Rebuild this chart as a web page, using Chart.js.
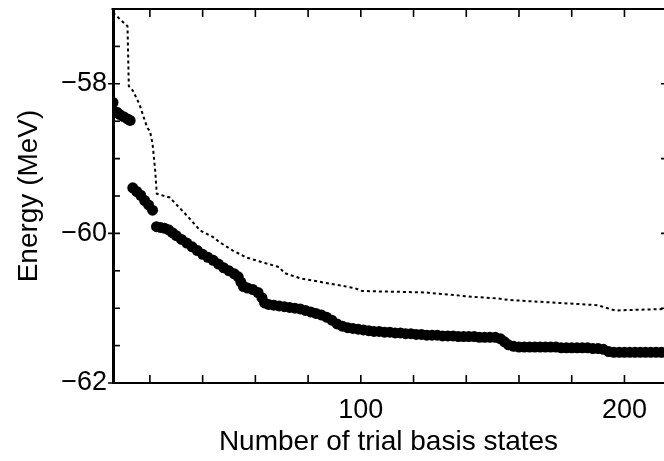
<!DOCTYPE html>
<html>
<head>
<meta charset="utf-8">
<script src="https://cdn.jsdelivr.net/npm/chart.js@4"></script>
<style>
html, body { margin: 0; padding: 0; background: #fff; overflow: hidden; }
</style>
</head>
<body>
<canvas id="myChart" width="664" height="461"></canvas>
<script>
// data block
const dotStates = [6, 7.5, 8.5, 10, 11.5, 12.5,
    13.5, 15, 16.5, 18, 19.5, 21,
    22.5, 24, 25.5, 27, 28.5, 30, 32, 34, 36, 38, 40, 42, 44, 46, 48, 50, 52, 53.5, 54.5, 55.5,
    57, 59, 61, 62.5, 63.5, 65, 67, 69, 71, 73, 75, 77, 79, 81, 83, 85, 87, 89, 91, 93, 95, 97, 99,
    101, 103, 105, 107, 109, 111, 113, 115, 117, 119, 121, 123, 125, 127, 129, 131, 133, 135, 137, 139,
    141, 143, 145, 147, 149, 151, 153, 154.5, 156, 158, 160, 162, 164, 166, 168, 170, 172, 174, 176, 178,
    180, 182, 184, 186, 188, 190, 192, 194, 196, 198, 200, 202, 204, 206, 208, 210, 212, 214, 216];
const dotEnergy = [-58.25, -58.38, -58.41, -58.44, -58.47, -58.49,
    -59.39, -59.44, -59.49, -59.56, -59.62, -59.69,
    -59.91, -59.92, -59.93, -59.95, -59.99, -60.03, -60.08, -60.13, -60.18, -60.23, -60.28, -60.32, -60.36, -60.41, -60.46, -60.50, -60.54, -60.58, -60.65, -60.71,
    -60.73, -60.75, -60.79, -60.86, -60.93, -60.95, -60.96, -60.97, -60.98, -60.99, -61.00, -61.01, -61.03, -61.05, -61.07, -61.09, -61.12, -61.16, -61.21, -61.24, -61.26, -61.27, -61.28,
    -61.29, -61.30, -61.31, -61.31, -61.32, -61.32, -61.33, -61.33, -61.34, -61.34, -61.35, -61.35, -61.36, -61.36, -61.36, -61.37, -61.37, -61.37, -61.38, -61.38,
    -61.38, -61.38, -61.39, -61.39, -61.39, -61.39, -61.41, -61.45, -61.49, -61.51, -61.52, -61.52, -61.52, -61.52, -61.52, -61.52, -61.52, -61.52, -61.53, -61.53,
    -61.53, -61.53, -61.53, -61.53, -61.54, -61.54, -61.55, -61.58, -61.59, -61.59, -61.59, -61.59, -61.59, -61.59, -61.59, -61.59, -61.59, -61.59, -61.59];

const lineStates = [6, 11.5, 12, 13.5, 16, 19, 20, 21, 22, 22.6, 27.5, 34, 39, 44, 46.5, 51.5, 56.5, 63, 69, 71, 77, 88, 97.5, 100.5,
    125, 127, 143.5, 152, 156, 190, 192.5, 196.5, 216];
const lineEnergy = [-57.05, -57.23, -58.03, -58.09, -58.27, -58.59, -58.63, -58.8, -59.16, -59.47, -59.52, -59.76, -59.96, -60.05, -60.12, -60.23, -60.32, -60.39, -60.45, -60.53, -60.6, -60.67, -60.73, -60.77,
    -60.79, -60.8, -60.85, -60.87, -60.89, -60.96, -60.99, -61.03, -61.01];

const xTicks = [20, 40, 60, 80, 100, 120, 140, 160, 180, 200];
const xLabels = [100, 200];
const yTicks = [-62, -61.5, -61, -60.5, -60, -59.5, -59, -58.5, -58, -57.5];
const yLabels = [-62, -60, -58];

const font = 'Liberation Sans, Arial, Helvetica, sans-serif';

// inward tick marks and the top frame line
const frameTicks = {
    id: 'frameTicks',
    afterDraw(chart) {
        const {ctx, chartArea: a, scales: {x, y}} = chart;
        ctx.save();
        ctx.strokeStyle = '#000';
        ctx.lineWidth = 2;
        ctx.beginPath();
        ctx.moveTo(a.left - 1.5, a.top);
        ctx.lineTo(a.right, a.top);
        ctx.stroke();
        ctx.lineWidth = 1.6;
        xTicks.forEach(v => {
            const px = x.getPixelForValue(v);
            ctx.beginPath();
            ctx.moveTo(px, a.bottom);
            ctx.lineTo(px, a.bottom - 8);
            ctx.moveTo(px, a.top);
            ctx.lineTo(px, a.top + 8);
            ctx.stroke();
        });
        yTicks.forEach(v => {
            const py = y.getPixelForValue(v);
            ctx.beginPath();
            ctx.moveTo(a.left - (yLabels.includes(v) ? 5 : 0), py);
            ctx.lineTo(a.left + 7, py);
            if (Number.isInteger(v)) {
                ctx.moveTo(a.right, py);
                ctx.lineTo(a.right - 3, py);
            }
            ctx.stroke();
        });
        ctx.restore();
    }
};

// config block
const config = {
    type: 'scatter',
    data: {
        datasets: [{
            data: dotStates.map((s, i) => ({x: s, y: dotEnergy[i]})),
            backgroundColor: '#000',
            borderWidth: 0,
            pointRadius: 5.5
        }, {
            data: lineStates.map((s, i) => ({x: s, y: lineEnergy[i]})),
            showLine: true,
            borderColor: '#000',
            borderWidth: 2,
            borderDash: [3, 3],
            pointRadius: 0,
            tension: 0
        }]
    },
    options: {
        responsive: false,
        animation: false,
        devicePixelRatio: 1,
        layout: { autoPadding: false, padding: { top: 9, right: 0, bottom: 0, left: 0 } },
        plugins: { legend: { display: false }, tooltip: { enabled: false } },
        scales: {
            x: {
                type: 'linear',
                min: 6,
                max: 215,
                afterBuildTicks: s => { s.ticks = xTicks.map(v => ({value: v})); },
                afterFit: s => {
                    s.height = 78;
                    s.paddingLeft = 0;
                    s.paddingRight = 0;
                },
                grid: { drawOnChartArea: false, drawTicks: false },
                border: { display: true, color: '#000', width: 2 },
                ticks: {
                    color: '#000',
                    font: { family: font, size: 27 },
                    padding: 11,
                    maxRotation: 0,
                    autoSkip: false,
                    callback: v => xLabels.includes(v) ? String(v) : null
                },
                title: {
                    display: true,
                    text: 'Number of trial basis states',
                    color: '#000',
                    font: { family: font, size: 28 },
                    padding: 2
                }
            },
            y: {
                min: -62,
                max: -57,
                afterBuildTicks: s => { s.ticks = yTicks.map(v => ({value: v})); },
                afterFit: s => {
                    s.width = 113;
                    s.paddingTop = 0;
                    s.paddingBottom = 0;
                },
                grid: { drawOnChartArea: false, drawTicks: false },
                border: { display: true, color: '#000', width: 3 },
                ticks: {
                    color: '#000',
                    font: { family: font, size: 27 },
                    padding: 6,
                    autoSkip: false,
                    callback: v => yLabels.includes(v) ? '\u2212' + Math.abs(v) : null
                },
                title: {
                    display: true,
                    text: 'Energy (MeV)',
                    color: '#000',
                    font: { family: font, size: 28 },
                    padding: 12
                }
            }
        }
    },
    plugins: [frameTicks]
};

// init render block
const myChart = new Chart(
    document.getElementById('myChart'),
    config
);
</script>
</body>
</html>
